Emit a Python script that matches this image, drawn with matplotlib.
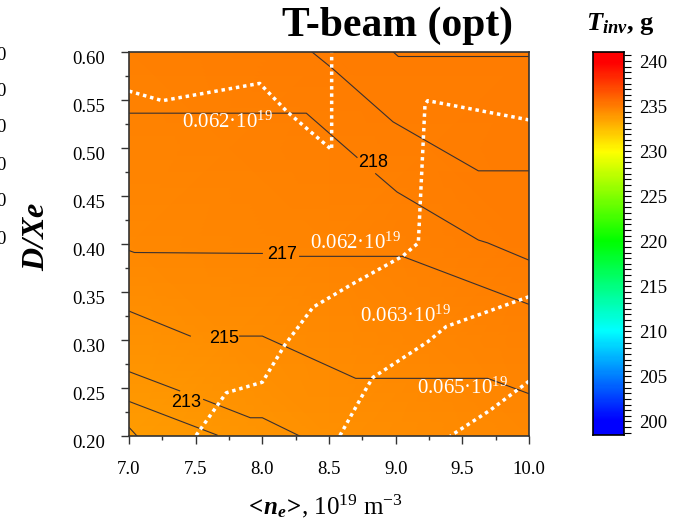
import numpy as np
import matplotlib
matplotlib.use("Agg")
import matplotlib.pyplot as plt
from matplotlib.colors import LinearSegmentedColormap, Normalize
from matplotlib.ticker import MultipleLocator
from matplotlib.transforms import ScaledTranslation
from matplotlib.offsetbox import TextArea, HPacker, AnnotationBbox

plt.rcParams["font.family"] = ["Liberation Serif", "DejaVu Serif"]
plt.rcParams["mathtext.fontset"] = "custom"
plt.rcParams["mathtext.rm"] = "Liberation Serif"
plt.rcParams["mathtext.it"] = "Liberation Serif:italic"
plt.rcParams["mathtext.bf"] = "Liberation Serif:bold"
plt.rcParams["mathtext.bfit"] = "Liberation Serif:bold:italic"

# background fill, in colour-bar units
fill_x = [7.0, 8.5, 10.0]
fill_y = [0.20, 0.40, 0.60]
fill_T = [[233.9, 234.3, 234.6],
          [234.6, 234.8, 235.0],
          [234.9, 235.0, 235.1]]

# T_inv contour lines (nan = gap for label)
t220_x = [8.98, 9.02, 10.0]
t220_y = [0.600, 0.595, 0.595]
t219_x = [8.37, 8.53, 8.98, 9.62, 10.0]
t219_y = [0.600, 0.582, 0.527, 0.476, 0.476]
t218_x = [7.0, 8.33, 8.71, np.nan, 8.85, 9.01, 9.62, 9.69, 10.0]
t218_y = [0.536, 0.536, 0.490, np.nan, 0.473, 0.454, 0.404, 0.401, 0.383]
t217_x = [7.0, 7.04, 8.0, np.nan, 8.28, 9.05, 10.0]
t217_y = [0.393, 0.391, 0.390, np.nan, 0.387, 0.387, 0.337]
t215_x = [7.0, 7.46, np.nan, 7.83, 8.0, 8.70, 9.69, 10.0]
t215_y = [0.330, 0.304, np.nan, 0.304, 0.304, 0.260, 0.260, 0.244]
t213_x = [7.0, 7.38, np.nan, 7.56, 7.91, 8.0, 8.28]
t213_y = [0.267, 0.247, np.nan, 0.238, 0.219, 0.219, 0.200]
t212_x = [7.0, 7.66]
t212_y = [0.236, 0.201]
t211_x = [7.0, 7.06]
t211_y = [0.209, 0.200]

t_labels = ["218", "217", "215", "213"]
t_label_x = [8.83, 8.15, 7.71, 7.43]
t_label_y = [0.485, 0.389, 0.301, 0.235]

# white dotted iso-lines
d1_x = [7.0, 7.25, 7.98, 8.19, 8.52, 8.52]
d1_y = [0.559, 0.549, 0.567, 0.537, 0.498, 0.600]
d2_x = [10.0, 9.24, 9.22, 9.17, 9.05, 8.66, 8.38, 8.17, 8.0, 7.73, 7.5]
d2_y = [0.529, 0.549, 0.545, 0.401, 0.387, 0.357, 0.334, 0.295, 0.256, 0.245, 0.200]
d3_x = [10.0, 9.38, 9.24, 8.83, 8.79, 8.58]
d3_y = [0.345, 0.314, 0.298, 0.261, 0.252, 0.200]
d4_x = [10.0, 9.71, 9.41]
d4_y = [0.257, 0.227, 0.200]

d_labels = ["0.062", "0.062", "0.063", "0.065"]
d_label_x = [7.40, 8.36, 8.73, 9.16]
d_label_y = [0.521, 0.395, 0.319, 0.244]

x_ticks = [7.0, 7.5, 8.0, 8.5, 9.0, 9.5, 10.0]
y_ticks = [0.20, 0.25, 0.30, 0.35, 0.40, 0.45, 0.50, 0.55, 0.60]
cb_ticks = [200, 205, 210, 215, 220, 225, 230, 235, 240]

cmap = LinearSegmentedColormap.from_list(
    "rainbow5", ["#0000ff", "#00ffff", "#00ff00", "#ffff00", "#ff0000"])
norm = Normalize(200, 240)

W, H = 682, 523
fig = plt.figure(figsize=(W / 100, H / 100), dpi=100)
ax = fig.add_axes([129 / W, 1 - 436 / H, 400 / W, (436 - 51.7) / H])

ax.pcolormesh(fill_x, fill_y, np.array(fill_T), shading="gouraud", cmap=cmap, norm=norm)

for xs, ys in [(t220_x, t220_y), (t219_x, t219_y), (t218_x, t218_y), (t217_x, t217_y),
               (t215_x, t215_y), (t213_x, t213_y), (t212_x, t212_y), (t211_x, t211_y)]:
    ax.plot(xs, ys, color="#3a3030", lw=0.8)

for s, x, y in zip(t_labels, t_label_x, t_label_y):
    ax.text(x, y, s, ha="center", va="center", fontsize=13,
            family=["Liberation Sans", "DejaVu Sans"], color="black")

for xs, ys in [(d1_x, d1_y), (d2_x, d2_y), (d3_x, d3_y), (d4_x, d4_y)]:
    ax.plot(xs, ys, color="white", lw=2.5, linestyle=(0, (1, 1.1)), dash_capstyle="butt")

for s, x, y in zip(d_labels, d_label_x, d_label_y):
    ax.text(x, y, s + "·10$^{19}$", ha="left", va="baseline", fontsize=15, color="white")

ax.set_xlim(7.0, 10.0)
ax.set_ylim(0.20, 0.60)
ax.set_xticks(x_ticks)
ax.set_xticklabels([f"{v:.1f}" for v in x_ticks])
ax.set_yticks(y_ticks)
ax.set_yticklabels([f"{v:.2f}" for v in y_ticks])
ax.xaxis.set_minor_locator(MultipleLocator(0.25))
ax.yaxis.set_minor_locator(MultipleLocator(0.025))
ax.tick_params(which="major", direction="out", length=6, width=1, labelsize=13.5, color="#333333")
ax.tick_params(which="minor", direction="out", length=3, width=1, color="#333333")
ax.tick_params(axis="x", pad=12)
ax.tick_params(axis="y", pad=11)
for lbl in ax.get_yticklabels():
    lbl.set_transform(lbl.get_transform() + ScaledTranslation(0, -0.06, fig.dpi_scale_trans))
for sp in ax.spines.values():
    sp.set_color("#333333")
    sp.set_linewidth(1.2)

# colour bar
cax = fig.add_axes([593 / W, 1 - 435 / H, 31 / W, (435 - 52) / H])
grad = np.linspace(198.5, 241, 300)[:, None]
cax.imshow(grad, extent=[0, 1, 198.5, 241], origin="lower", aspect="auto", cmap=cmap, norm=norm)
cax.set_xlim(0, 1)
cax.set_ylim(198.5, 241)
cax.set_xticks([])
cax.yaxis.tick_right()
cax.set_yticks(cb_ticks)
cax.yaxis.set_minor_locator(MultipleLocator(0.625))
cax.tick_params(which="both", direction="out", length=5, width=0.8, labelsize=13.5, pad=6)
for sp in cax.spines.values():
    sp.set_linewidth(1.2)

fig.text(397 / W, 1 - 26 / H, "T-beam (opt)", ha="center", va="center",
         fontsize=30, fontweight="bold")
fig.text(620 / W, 1 - 24 / H, r"$\mathbfit{T}_{\mathbfit{inv}}$, g", ha="center", va="center",
         fontsize=19, fontweight="bold")
fig.text(37 / W, 1 - 236 / H, r"$\mathbfit{D/Xe}$", ha="center", va="center",
         fontsize=23, rotation=90)

# x label built from pieces so "<" and ">" are not spaced like math relations
xl_parts = [
    TextArea("<", textprops=dict(fontsize=18, fontweight="bold")),
    TextArea(r"$\mathbfit{n}_{\mathbfit{e}}$", textprops=dict(fontsize=18)),
    TextArea(">", textprops=dict(fontsize=18, fontweight="bold")),
    TextArea(r", 10$^{19}$ m$^{\mathrm{-3}}$", textprops=dict(fontsize=18)),
]
xl_box = HPacker(children=xl_parts, align="baseline", pad=0, sep=0)
fig.add_artist(AnnotationBbox(xl_box, (326 / W, 1 - 506 / H), xycoords="figure fraction",
                              frameon=False, box_alignment=(0.5, 0.5)))

# clipped labels of the neighbouring panel on the left edge
for yp in [55, 92, 128, 165, 202, 240]:
    fig.text(5.5 / W, 1 - yp / H, "0", ha="right", va="center", fontsize=13.5)

fig.savefig("out.png", dpi=100)
